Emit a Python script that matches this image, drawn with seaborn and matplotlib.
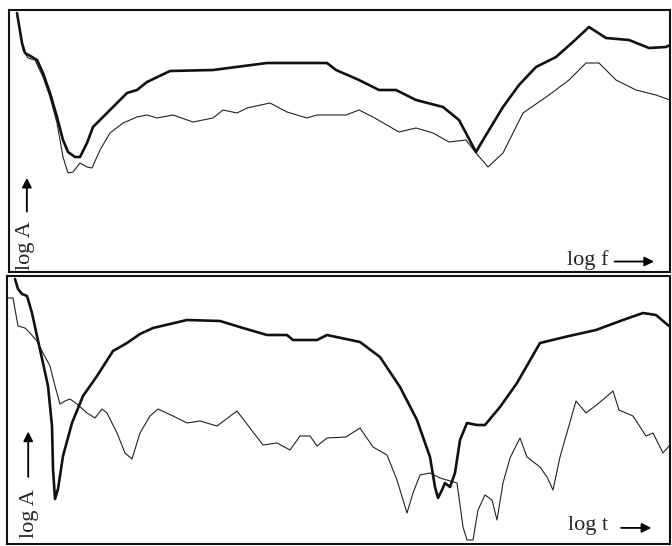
import matplotlib
matplotlib.use('Agg')
import matplotlib.pyplot as plt
import pandas as pd
import seaborn as sns

sns.set_style('white')
plt.rcParams['font.family'] = ['Liberation Serif', 'DejaVu Serif']

# Top panel: log A versus log f (arbitrary units)
f_thick = [8, 13, 16, 23, 28, 34, 41, 48, 54, 59, 66, 71, 78, 84, 98, 108, 118, 128, 138, 161,
           204, 258, 318, 327, 350, 370, 387, 407, 434, 450, 467, 474, 494, 510, 527, 547, 565, 580,
           597, 620, 640, 657, 661]
A_thick = [259, 229, 219, 215, 212, 199, 179, 155, 132, 120, 115, 115, 129, 145, 159, 169, 179, 182, 190, 201,
           202, 209, 209, 202, 192, 182, 182, 172, 165, 152, 120, 132, 165, 187, 205, 215, 231, 245,
           234, 232, 224, 225, 227]

f_thin = [8, 14, 19, 26, 34, 41, 48, 54, 59, 64, 71, 78, 83, 91, 101, 114, 128, 138, 148, 164,
          184, 204, 214, 228, 238, 261, 278, 298, 308, 337, 350, 364, 390, 407, 424, 440, 457, 467,
          479, 494, 514, 540, 560, 577, 590, 607, 627, 647, 661]
A_thin = [259, 222, 214, 212, 195, 175, 149, 115, 99, 100, 109, 105, 104, 122, 139, 149, 155, 157, 154, 157,
          150, 154, 162, 159, 164, 169, 160, 154, 157, 157, 162, 155, 140, 144, 139, 130, 132, 119,
          105, 119, 159, 177, 192, 209, 209, 192, 182, 177, 172]

# Bottom panel: log A versus log t
t_thick = [8, 11, 15, 20, 25, 30, 36, 41, 45, 46, 48, 51, 56, 65, 76, 90, 106, 120, 133, 146,
           180, 213, 236, 260, 280, 286, 310, 320, 353, 373, 393, 410, 423, 428, 431, 435, 438, 443,
           448, 453, 460, 470, 478, 493, 510, 533, 562, 589, 616, 636, 649, 662]
B_thick = [265, 255, 250, 248, 231, 208, 181, 158, 118, 75, 45, 55, 88, 121, 148, 168, 193, 201, 210, 216,
           224, 223, 216, 209, 209, 204, 204, 209, 202, 187, 157, 124, 87, 57, 46, 54, 61, 57,
           71, 104, 121, 119, 119, 137, 161, 201, 208, 214, 224, 231, 229, 218]

t_thin = [1, 6, 11, 18, 23, 30, 36, 43, 48, 53, 58, 63, 70, 80, 88, 95, 100, 110, 118, 125,
          133, 143, 151, 166, 180, 193, 210, 230, 256, 270, 283, 293, 303, 310, 320, 339, 353, 366,
          380, 390, 400, 406, 413, 423, 433, 450, 456, 460, 466, 471, 478, 485, 490, 496, 503, 513,
          520, 533, 540, 546, 553, 569, 579, 592, 606, 612, 626, 639, 646, 656, 662]
B_thin = [246, 246, 218, 216, 211, 203, 191, 178, 158, 140, 143, 145, 140, 131, 126, 135, 131, 111, 91, 85,
          111, 128, 135, 128, 121, 123, 118, 133, 99, 101, 94, 108, 108, 98, 106, 107, 116, 97,
          89, 64, 31, 51, 69, 71, 66, 61, 17, 4, 4, 34, 49, 44, 24, 61, 86, 106,
          87, 77, 67, 54, 87, 143, 131, 141, 153, 134, 128, 108, 111, 91, 98]

top_thick = pd.DataFrame({'x': f_thick, 'y': A_thick})
top_thin = pd.DataFrame({'x': f_thin, 'y': A_thin})
bot_thick = pd.DataFrame({'x': t_thick, 'y': B_thick})
bot_thin = pd.DataFrame({'x': t_thin, 'y': B_thin})

fig = plt.figure(figsize=(6.72, 5.46), dpi=100)
ax1 = fig.add_axes([9 / 672, 274 / 546, 661 / 672, 262 / 546])
ax2 = fig.add_axes([7 / 672, 2 / 546, 663 / 672, 268 / 546])

panels = [
    (ax1, top_thick, top_thin, (0, 661), (0, 262)),
    (ax2, bot_thick, bot_thin, (0, 663), (0, 268)),
]

for ax, thick, thin, xl, yl in panels:
    sns.lineplot(data=thin, x='x', y='y', sort=False, estimator=None, color='#222222',
                 linewidth=0.8, ax=ax, solid_joinstyle='round')
    sns.lineplot(data=thick, x='x', y='y', sort=False, estimator=None, color='#111111',
                 linewidth=1.9, ax=ax, solid_joinstyle='round')
    ax.set_xlim(*xl)
    ax.set_ylim(*yl)
    ax.set_xticks([])
    ax.set_yticks([])
    ax.set_xlabel('')
    ax.set_ylabel('')
    for s in ax.spines.values():
        s.set_linewidth(1.5)
        s.set_color('#111111')

# axis captions with arrows
ax1.text(0.025, 0.10, 'log A', rotation=90, transform=ax1.transAxes, fontsize=16,
         ha='center', va='center')
ax1.annotate('', xy=(0.027, 0.37), xytext=(0.027, 0.22), xycoords='axes fraction',
             arrowprops=dict(arrowstyle='-|>', color='black', lw=1.3, mutation_scale=14))
ax1.text(0.876, 0.045, 'log f', transform=ax1.transAxes, fontsize=16, ha='center', va='center')
ax1.annotate('', xy=(0.98, 0.04), xytext=(0.912, 0.04), xycoords='axes fraction',
             arrowprops=dict(arrowstyle='-|>', color='black', lw=1.3, mutation_scale=14))

ax2.text(0.034, 0.115, 'log A', rotation=90, transform=ax2.transAxes, fontsize=16,
         ha='center', va='center')
ax2.annotate('', xy=(0.032, 0.43), xytext=(0.032, 0.24), xycoords='axes fraction',
             arrowprops=dict(arrowstyle='-|>', color='black', lw=1.3, mutation_scale=14))
ax2.text(0.876, 0.07, 'log t', transform=ax2.transAxes, fontsize=16, ha='center', va='center')
ax2.annotate('', xy=(0.976, 0.06), xytext=(0.922, 0.06), xycoords='axes fraction',
             arrowprops=dict(arrowstyle='-|>', color='black', lw=1.3, mutation_scale=14))

fig.savefig('out.png', dpi=100)
